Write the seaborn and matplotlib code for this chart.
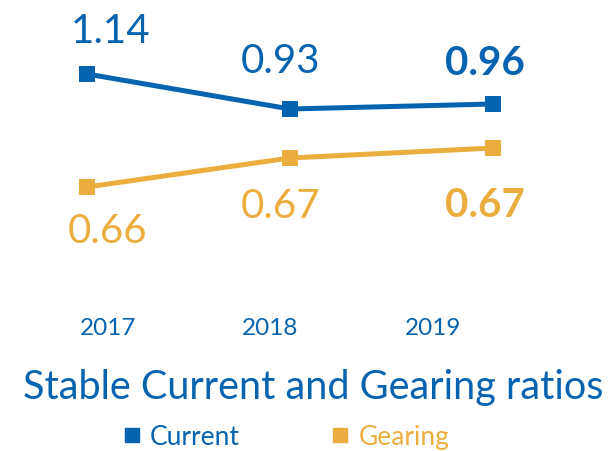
import seaborn as sns
import matplotlib.pyplot as plt
import pandas as pd
from matplotlib.lines import Line2D

years = ['2017', '2018', '2019']
current = [1.14, 0.93, 0.96]
gearing = [0.660, 0.6687, 0.6717]
current_labels = ['1.14', '0.93', '0.96']
gearing_labels = ['0.66', '0.67', '0.67']

blue = '#0563b0'
gold = '#ebae3e'

sns.set_style('white')
plt.rcParams['font.family'] = ['Lato', 'DejaVu Sans']

df = pd.DataFrame({'year': years, 'current': current, 'gearing': gearing})

fig = plt.figure(figsize=(6.11, 4.52), dpi=100)
ax = fig.add_axes([0, 0, 1, 1])
ax2 = ax.twinx()

sns.lineplot(data=df, x='year', y='current', ax=ax, color=blue, lw=3.6,
             marker='s', markersize=11, markeredgewidth=0)
sns.lineplot(data=df, x='year', y='gearing', ax=ax2, color=gold, lw=3.6,
             marker='s', markersize=11, markeredgewidth=0)

ax.set_xlim(-0.4286, 2.581)
ax.set_ylim(-1.122, 1.59)
ax2.set_ylim(0.5808, 0.7164)
for a in (ax, ax2):
    a.axis('off')

# value labels (offsets in points)
cur_off = [(17, 31), (-7, 35), (-6, 30)]
gear_off = [(15, -31), (-7, -34), (-6, -41)]
for i, (v, lab) in enumerate(zip(current, current_labels)):
    ax.annotate(lab, (i, v), xytext=cur_off[i], textcoords='offset points',
                ha='center', va='center', fontsize=29, color=blue,
                fontweight='bold' if i == 2 else 'normal')
for i, (v, lab) in enumerate(zip(gearing, gearing_labels)):
    ax2.annotate(lab, (i, v), xytext=gear_off[i], textcoords='offset points',
                 ha='center', va='center', fontsize=29, color=gold,
                 fontweight='bold' if i == 2 else 'normal')

# year labels
for x, y in zip([108, 270, 433], years):
    fig.text(x / 611, 1 - 329 / 452, y, ha='center', va='center',
             fontsize=17.5, color=blue)

fig.text(313 / 611, 1 - 387 / 452, 'Stable Current and Gearing ratios',
         ha='center', va='center', fontsize=28.5, color=blue)

handles = [Line2D([], [], ls='none', marker='s', markersize=10, color=blue),
           Line2D([], [], ls='none', marker='s', markersize=10, color=gold)]
leg = fig.legend(handles, ['Current', 'Gearing'], loc='center',
                 bbox_to_anchor=(284 / 611, 1 - 438 / 452), ncol=2,
                 frameon=False, fontsize=19, handletextpad=0.2,
                 columnspacing=3.3, handlelength=1)
for t, c in zip(leg.get_texts(), [blue, gold]):
    t.set_color(c)

fig.savefig('out.png', dpi=100)
